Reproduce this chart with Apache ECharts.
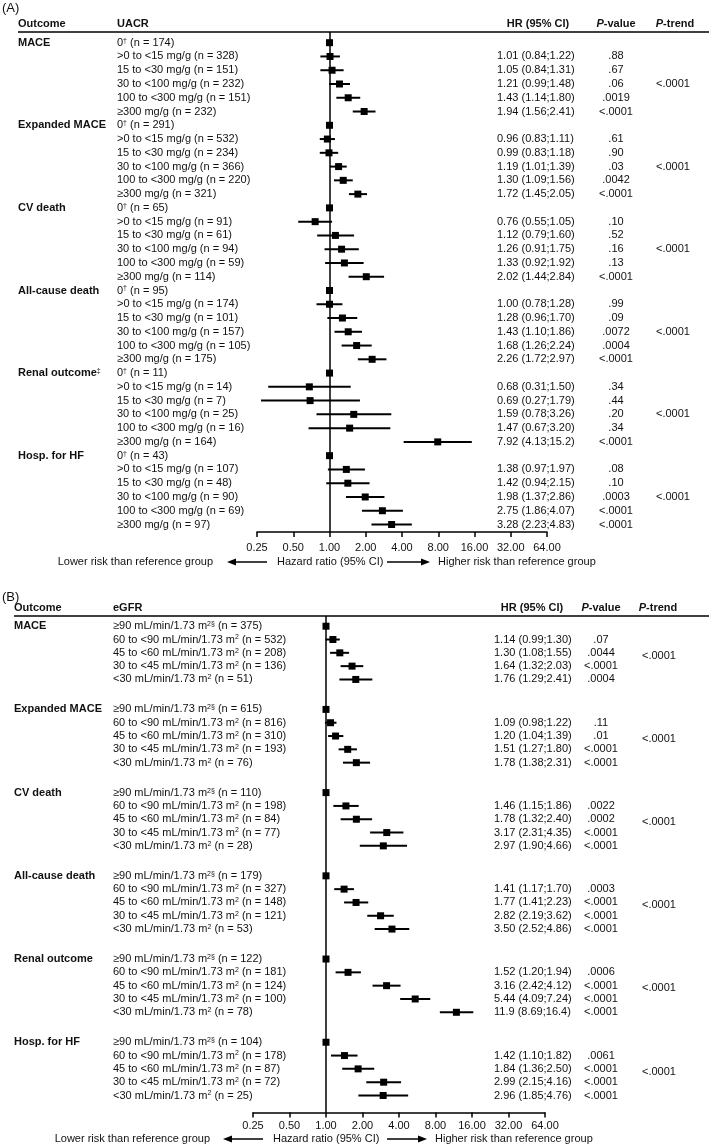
<!DOCTYPE html>
<html>
<head>
  <meta charset="UTF-8">
  <script src="https://cdn.jsdelivr.net/npm/echarts@6/dist/echarts.min.js"></script>
  <style>
    body { margin: 0; background: #fff; }
    #chart { width: 709px; height: 1145px; }
  </style>
</head>
<body>
<div id="chart"></div>
<script>
// ---- panel A: UACR ----
const outcomesA = ['MACE', 'Expanded MACE', 'CV death', 'All-cause death', 'Renal outcome{s|‡}', 'Hosp. for HF'];
const uacrLabels = ['0{s|†}', '>0 to <15 mg/g', '15 to <30 mg/g', '30 to <100 mg/g', '100 to <300 mg/g', '≥300 mg/g'];
const uacrN = [
  [174, 328, 151, 232, 151, 232],
  [291, 532, 234, 366, 220, 321],
  [65, 91, 61, 94, 59, 114],
  [95, 174, 101, 157, 105, 175],
  [11, 14, 7, 25, 16, 164],
  [43, 107, 48, 90, 69, 97]
];
const uacrHR = [
  [1, 1.01, 1.05, 1.21, 1.43, 1.94],
  [1, 0.96, 0.99, 1.19, 1.30, 1.72],
  [1, 0.76, 1.12, 1.26, 1.33, 2.02],
  [1, 1.00, 1.28, 1.43, 1.68, 2.26],
  [1, 0.68, 0.69, 1.59, 1.47, 7.92],
  [1, 1.38, 1.42, 1.98, 2.75, 3.28]
];
const uacrLo = [
  [null, 0.84, 0.84, 0.99, 1.14, 1.56],
  [null, 0.83, 0.83, 1.01, 1.09, 1.45],
  [null, 0.55, 0.79, 0.91, 0.92, 1.44],
  [null, 0.78, 0.96, 1.10, 1.26, 1.72],
  [null, 0.31, 0.27, 0.78, 0.67, 4.13],
  [null, 0.97, 0.94, 1.37, 1.86, 2.23]
];
const uacrHi = [
  [null, 1.22, 1.31, 1.48, 1.80, 2.41],
  [null, 1.11, 1.18, 1.39, 1.56, 2.05],
  [null, 1.05, 1.60, 1.75, 1.92, 2.84],
  [null, 1.28, 1.70, 1.86, 2.24, 2.97],
  [null, 1.50, 1.79, 3.26, 3.20, 15.2],
  [null, 1.97, 2.15, 2.86, 4.07, 4.83]
];
const uacrP = [
  ['', '.88', '.67', '.06', '.0019', '<.0001'],
  ['', '.61', '.90', '.03', '.0042', '<.0001'],
  ['', '.10', '.52', '.16', '.13', '<.0001'],
  ['', '.99', '.09', '.0072', '.0004', '<.0001'],
  ['', '.34', '.44', '.20', '.34', '<.0001'],
  ['', '.08', '.10', '.0003', '<.0001', '<.0001']
];
const uacrTrend = ['<.0001', '<.0001', '<.0001', '<.0001', '<.0001', '<.0001'];

// ---- panel B: eGFR ----
const outcomesB = ['MACE', 'Expanded MACE', 'CV death', 'All-cause death', 'Renal outcome', 'Hosp. for HF'];
const egfrLabels = ['≥90 mL/min/1.73 m{s|2§}', '60 to <90 mL/min/1.73 m{s|2}', '45 to <60 mL/min/1.73 m{s|2}',
  '30 to <45 mL/min/1.73 m{s|2}', '<30 mL/min/1.73 m{s|2}'];
const egfrN = [
  [375, 532, 208, 136, 51],
  [615, 816, 310, 193, 76],
  [110, 198, 84, 77, 28],
  [179, 327, 148, 121, 53],
  [122, 181, 124, 100, 78],
  [104, 178, 87, 72, 25]
];
const egfrHR = [
  [1, 1.14, 1.30, 1.64, 1.76],
  [1, 1.09, 1.20, 1.51, 1.78],
  [1, 1.46, 1.78, 3.17, 2.97],
  [1, 1.41, 1.77, 2.82, 3.50],
  [1, 1.52, 3.16, 5.44, 11.9],
  [1, 1.42, 1.84, 2.99, 2.96]
];
const egfrLo = [
  [null, 0.99, 1.08, 1.32, 1.29],
  [null, 0.98, 1.04, 1.27, 1.38],
  [null, 1.15, 1.32, 2.31, 1.90],
  [null, 1.17, 1.41, 2.19, 2.52],
  [null, 1.20, 2.42, 4.09, 8.69],
  [null, 1.10, 1.36, 2.15, 1.85]
];
const egfrHi = [
  [null, 1.30, 1.55, 2.03, 2.41],
  [null, 1.22, 1.39, 1.80, 2.31],
  [null, 1.86, 2.40, 4.35, 4.66],
  [null, 1.70, 2.23, 3.62, 4.86],
  [null, 1.94, 4.12, 7.24, 16.4],
  [null, 1.82, 2.50, 4.16, 4.76]
];
const egfrP = [
  ['', '.07', '.0044', '<.0001', '.0004'],
  ['', '.11', '.01', '<.0001', '<.0001'],
  ['', '.0022', '.0002', '<.0001', '<.0001'],
  ['', '.0003', '<.0001', '<.0001', '<.0001'],
  ['', '.0006', '<.0001', '<.0001', '<.0001'],
  ['', '.0061', '<.0001', '<.0001', '<.0001']
];
const egfrTrend = ['<.0001', '<.0001', '<.0001', '<.0001', '<.0001', '<.0001'];

const hrTicks = [0.25, 0.5, 1, 2, 4, 8, 16, 32, 64];

const FF = '"Liberation Sans", Arial, Helvetica, sans-serif';
const INK = '#111';
const supRich = { s: { fontSize: 7, fontFamily: FF, verticalAlign: 'top', fill: INK } };

function fmt(v) { return v >= 10 ? v.toFixed(1) : v.toFixed(2); }

// flatten groups into rows; step = row spacing between groups
function buildRows(outcomes, labels, N, HR, LO, HI, P, step) {
  const rows = [];
  outcomes.forEach((o, g) => {
    labels.forEach((lab, i) => {
      rows.push({ g, i, row: g * step + i, outcome: o, label: lab, n: N[g][i],
        hr: HR[g][i], lo: LO[g][i], hi: HI[g][i], p: P[g][i] });
    });
  });
  return rows;
}

const rowsA = buildRows(outcomesA, uacrLabels, uacrN, uacrHR, uacrLo, uacrHi, uacrP, 6);
const rowsB = buildRows(outcomesB, egfrLabels, egfrN, egfrHR, egfrLo, egfrHi, egfrP, 6.25);

function txt(x, y, text, align, bold) {
  return { type: 'text', x, y, style: {
    text, fill: INK, fontSize: 11, fontFamily: FF, fontWeight: bold ? 'bold' : 'normal',
    align, verticalAlign: 'middle', rich: supRich } };
}

function textSeries(rows, trend, cfg, idx) {
  return {
    type: 'custom', xAxisIndex: idx, yAxisIndex: idx, silent: true, clip: false,
    data: rows.map(r => [1, r.row]),
    encode: { x: 0, y: 1 },
    renderItem(params, api) {
      const r = rows[params.dataIndex];
      const y = api.coord([1, api.value(1)])[1];
      const kids = [];
      if (r.i === 0) {
        kids.push(txt(cfg.xOut, y, r.outcome, 'left', true));
        const yt = api.coord([1, r.row + cfg.trendRow])[1];
        kids.push(txt(cfg.xTrend, yt, trend[r.g], 'center'));
      }
      kids.push(txt(cfg.xLab, y, r.label + ' (n = ' + r.n + ')', 'left'));
      if (r.lo != null) {
        kids.push(txt(cfg.xHR, y, fmt(r.hr) + ' (' + fmt(r.lo) + ';' + fmt(r.hi) + ')', 'left'));
        kids.push(txt(cfg.xP, y, r.p, 'center'));
      }
      return { type: 'group', children: kids };
    }
  };
}

function ciSeries(rows, idx) {
  return {
    type: 'custom', xAxisIndex: idx, yAxisIndex: idx, silent: true,
    data: rows.filter(r => r.lo != null).map(r => [r.lo, r.hi, r.row]),
    encode: { x: [0, 1], y: 2 },
    renderItem(params, api) {
      const a = api.coord([api.value(0), api.value(2)]);
      const b = api.coord([api.value(1), api.value(2)]);
      return { type: 'line', shape: { x1: a[0], y1: a[1], x2: b[0], y2: b[1] },
        style: { stroke: '#000', lineWidth: 2 } };
    }
  };
}

function pointSeries(rows, idx) {
  return {
    type: 'scatter', xAxisIndex: idx, yAxisIndex: idx, silent: true,
    symbol: 'rect', symbolSize: 7, itemStyle: { color: '#000', opacity: 1 },
    data: rows.map(r => [r.hr, r.row]),
    markLine: { silent: true, symbol: ['none', 'none'], label: { show: false },
      lineStyle: { color: '#000', width: 1.5, type: 'solid' }, data: [{ xAxis: 1 }] },
    z: 3
  };
}

function xAxisCfg(idx, margin) {
  return {
    type: 'log', logBase: 2, gridIndex: idx, position: 'bottom',
    min: hrTicks[0], max: hrTicks[hrTicks.length - 1],
    axisLine: { onZero: false, lineStyle: { color: '#000', width: 1.5 } },
    axisTick: { show: true, length: 5, lineStyle: { color: '#000', width: 1.5 } },
    axisLabel: { color: INK, fontSize: 11, fontFamily: FF, margin,
      formatter: v => Number(v).toFixed(2) },
    splitLine: { show: false }, minorTick: { show: false }
  };
}

function headerText(x, y, text, align) {
  return { type: 'text', x, y, style: { text, fill: INK, fontSize: 11, fontFamily: FF, fontWeight: 'bold',
    align, verticalAlign: 'middle',
    rich: { i: { fontStyle: 'italic', fontWeight: 'bold', fontSize: 11, fontFamily: FF, fill: INK } } } };
}

function plain(x, y, text, align, size) {
  return { type: 'text', x, y, style: { text, fill: INK, fontSize: size || 11, fontFamily: FF,
    align, verticalAlign: 'middle' } };
}

function arrows(y, lowRight, l1, l2, hzLeft, r1, r2, hiLeft) {
  return [
    plain(lowRight, y, 'Lower risk than reference group', 'right'),
    { type: 'line', shape: { x1: l1 + 6, y1: y, x2: l2, y2: y }, style: { stroke: '#000', lineWidth: 1.3 } },
    { type: 'polygon', shape: { points: [[l1, y], [l1 + 9, y - 3.5], [l1 + 9, y + 3.5]] }, style: { fill: '#000' } },
    plain(hzLeft, y, 'Hazard ratio (95% CI)', 'left'),
    { type: 'line', shape: { x1: r1, y1: y, x2: r2 - 6, y2: y }, style: { stroke: '#000', lineWidth: 1.3 } },
    { type: 'polygon', shape: { points: [[r2, y], [r2 - 9, y - 3.5], [r2 - 9, y + 3.5]] }, style: { fill: '#000' } },
    plain(hiLeft, y, 'Higher risk than reference group', 'left')
  ];
}

const graphics = [
  plain(2, 8, '(A)', 'left', 13),
  headerText(18, 24, 'Outcome', 'left'),
  headerText(117, 24, 'UACR', 'left'),
  headerText(538, 24, 'HR (95% CI)', 'center'),
  headerText(616, 24, '{i|P}-value', 'center'),
  headerText(675, 24, '{i|P}-trend', 'center'),
  { type: 'line', shape: { x1: 18, y1: 32, x2: 709, y2: 32 }, style: { stroke: '#000', lineWidth: 1.5 } },
  ...arrows(562, 213, 227, 267, 277, 387, 430, 438),

  plain(2, 597, '(B)', 'left', 13),
  headerText(14, 608, 'Outcome', 'left'),
  headerText(113, 608, 'eGFR', 'left'),
  headerText(532, 608, 'HR (95% CI)', 'center'),
  headerText(601, 608, '{i|P}-value', 'center'),
  headerText(658, 608, '{i|P}-trend', 'center'),
  { type: 'line', shape: { x1: 14, y1: 616, x2: 709, y2: 616 }, style: { stroke: '#000', lineWidth: 1.5 } },
  ...arrows(1139, 210, 223, 263, 273, 387, 427, 435)
];

const chart = echarts.init(document.getElementById('chart'), null, { renderer: 'canvas' });
chart.setOption({
  animation: false,
  backgroundColor: '#fff',
  grid: [
    { left: 257, width: 290, top: 32, height: 500, containLabel: false, outerBoundsMode: 'none' },
    { left: 253, width: 292, top: 616, height: 496.5, containLabel: false, outerBoundsMode: 'none' }
  ],
  xAxis: [xAxisCfg(0, 10), xAxisCfg(1, 8)],
  yAxis: [
    { type: 'value', gridIndex: 0, inverse: true, min: -0.777, max: 35.545, show: false, splitLine: { show: false } },
    { type: 'value', gridIndex: 1, inverse: true, min: -0.766, max: 36.527, show: false, splitLine: { show: false } }
  ],
  graphic: graphics,
  series: [
    ciSeries(rowsA, 0),
    pointSeries(rowsA, 0),
    textSeries(rowsA, uacrTrend, { xOut: 18, xLab: 117, xHR: 497, xP: 616, xTrend: 673, trendRow: 3 }, 0),
    ciSeries(rowsB, 1),
    pointSeries(rowsB, 1),
    textSeries(rowsB, egfrTrend, { xOut: 14, xLab: 113, xHR: 494, xP: 601, xTrend: 659, trendRow: 2.2 }, 1)
  ]
});
</script>
</body>
</html>
